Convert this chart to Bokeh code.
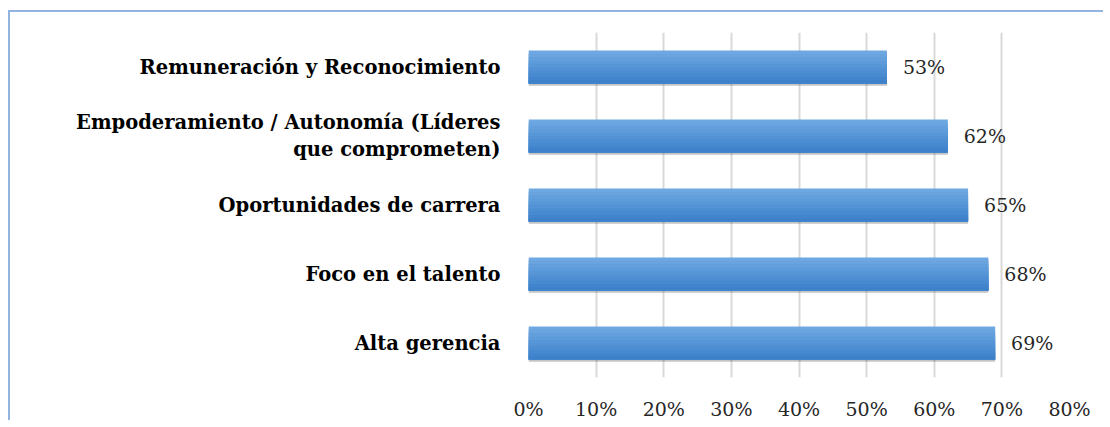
from bokeh.plotting import figure
from bokeh.models import FactorRange, NumeralTickFormatter, FixedTicker, ColumnDataSource
from bokeh.transform import dodge
from bokeh.core.properties import value
from bokeh.embed import file_html
from bokeh.resources import INLINE

# data (bottom to top)
categories = ["Alta gerencia", "Foco en el talento", "Oportunidades de carrera",
              "Empoderamiento / Autonomía (Líderes\nque comprometen)",
              "Remuneración y Reconocimiento"]
values = [0.69, 0.68, 0.65, 0.62, 0.53]
value_labels = ["69%", "68%", "65%", "62%", "53%"]
x_ticks = [0, 0.1, 0.2, 0.3, 0.4, 0.5, 0.6, 0.7, 0.8]

W, H = 1095, 410
p = figure(width=W, height=H, output_backend="svg", toolbar_location=None,
           y_range=FactorRange(*categories), x_range=(0, 0.8),
           min_border_left=518, min_border_right=W - 1059,
           min_border_top=20, min_border_bottom=H - 375)
p.outline_line_color = None
p.background_fill_color = "white"
p.border_fill_color = "white"
p.styles = {"border-top": "2px solid #93b3e2", "border-left": "2px solid #93b3e2",
            "margin-left": "8px", "margin-top": "10px"}

src = ColumnDataSource(dict(cat=categories, val=values, lab=value_labels))

# grid and axes
p.ygrid.grid_line_color = None
p.xgrid.grid_line_color = "#d9d9d9"
p.xgrid.grid_line_width = 2
p.xaxis.ticker = FixedTicker(ticks=x_ticks)
p.xaxis.formatter = NumeralTickFormatter(format="0%")
for ax in (p.xaxis, p.yaxis):
    ax.axis_line_color = None
    ax.major_tick_line_color = None
    ax.minor_tick_line_color = None
p.xaxis.major_label_text_font = "DejaVu Serif"
p.xaxis.major_label_text_font_size = "19px"
p.xaxis.major_label_text_color = "#262626"
p.xaxis.major_label_standoff = 14
p.yaxis.major_label_text_font = "DejaVu Serif"
p.yaxis.major_label_text_font_style = "bold"
p.yaxis.major_label_text_font_size = "19.5px"
p.yaxis.major_label_text_color = "#000000"
p.yaxis.major_label_standoff = 22
p.yaxis.major_label_text_align = "right"

bar_h = 0.48
# soft shadow
p.hbar(y=dodge("cat", -0.03, range=p.y_range), right="val", left=0, height=bar_h,
       source=src, fill_color="#555555", fill_alpha=0.35, line_color=None)
# vertical gradient: each layer covers from its top down to the bar's bottom
top_c = (0x6e, 0xa8, 0xe2)
bot_c = (0x3d, 0x81, 0xca)
N = 10
for i in range(N):
    t = i / (N - 1)
    col = "#%02x%02x%02x" % tuple(int(round(top_c[k] + (bot_c[k] - top_c[k]) * t)) for k in range(3))
    h = bar_h * (N - i) / N
    off = -bar_h / 2 + h / 2
    p.hbar(y=dodge("cat", off, range=p.y_range), right="val", left=0, height=h,
           source=src, fill_color=col, line_color=None)

p.text(x="val", y="cat", text="lab", source=src, x_offset=16,
       text_baseline="middle", text_align="left",
       text_font=value("DejaVu Serif"), text_font_size="19px", text_color="#262626")

open("out.html", "w").write(file_html(p, INLINE))
